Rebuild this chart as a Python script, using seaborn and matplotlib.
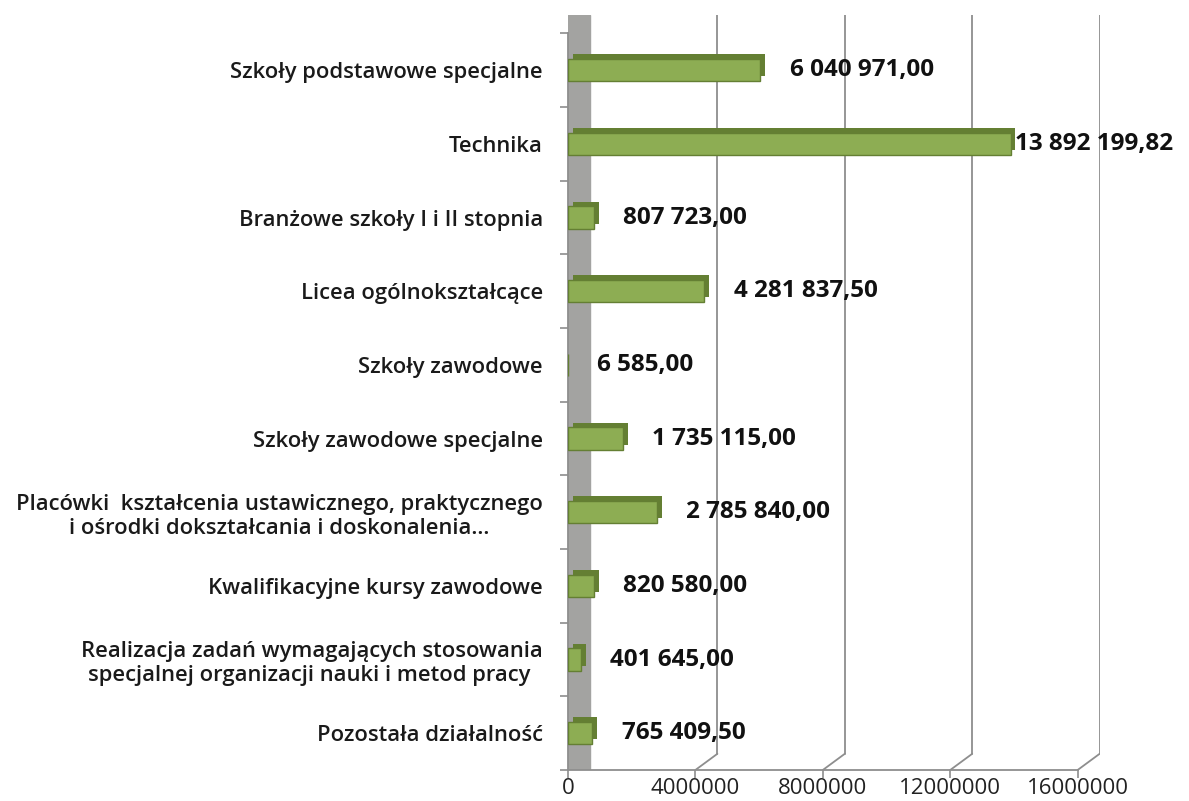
import numpy as np
import pandas as pd
import seaborn as sns
import matplotlib.pyplot as plt
import matplotlib.patheffects as pe

# data
categories = [
    "Szkoły podstawowe specjalne",
    "Technika",
    "Branżowe szkoły I i II stopnia",
    "Licea ogólnokształcące",
    "Szkoły zawodowe",
    "Szkoły zawodowe specjalne",
    "Placówki  kształcenia ustawicznego, praktycznego\ni ośrodki dokształcania i doskonalenia…",
    "Kwalifikacyjne kursy zawodowe",
    "Realizacja zadań wymagających stosowania\nspecjalnej organizacji nauki i metod pracy ",
    "Pozostała działalność",
]
values = [6040971.00, 13892199.82, 807723.00, 4281837.50, 6585.00,
          1735115.00, 2785840.00, 820580.00, 401645.00, 765409.50]
xticks = [0, 4000000, 8000000, 12000000, 16000000]

df = pd.DataFrame({"kategoria": categories, "kwota": values})

sns.set_theme(style="white")
plt.rcParams["font.family"] = ["Open Sans", "DejaVu Sans"]

face = "#8dad53"
side = "#647f33"
gray = "#8e8e8e"
depth = 690000  # fake 3d depth, in data units

fig = plt.figure(figsize=(11.89, 8.01), dpi=100)
ax = fig.add_axes([0.4777, 0.0387, 0.4474, 0.9426])

n = len(categories)

# grey back wall on the left
ax.axvspan(0, depth, color="#a3a3a1", zorder=0)

sns.barplot(data=df, x="kwota", y="kategoria", orient="h", color=face,
            width=0.3, edgecolor=side, linewidth=1.0, saturation=1, ax=ax, zorder=3)
for bar in ax.containers[0]:
    bar.set_path_effects([pe.SimplePatchShadow(offset=(3.5, 3.5), shadow_rgbFace=side, alpha=1),
                          pe.Normal()])
ax.set_xlim(0, 16700000)
ax.set_ylim(n - 0.5, -0.75)

# back gridlines, shifted by the depth, with slanted floor links
for t in xticks[1:]:
    ax.plot([t + depth, t + depth], [n - 0.72, -0.75], color=gray, lw=1.3, zorder=1)
    ax.plot([t, t + depth], [n - 0.5, n - 0.72], color=gray, lw=1.3, zorder=1)

ax.set_xticks(xticks)
ax.set_xticklabels([str(t) for t in xticks], fontsize=16, color="#222222")

# category labels on centres, tick marks between categories
ax.set_yticks(np.arange(n))
ax.set_yticklabels(categories, fontsize=15.8, fontweight="semibold", color="#1a1a1a",
                   multialignment="center")
ax.set_yticks(np.arange(n + 1) - 0.5, minor=True)
ax.tick_params(axis="y", which="major", length=0, pad=18)
ax.tick_params(axis="y", which="minor", length=6, width=1.2, color=gray, left=True)
ax.tick_params(axis="x", length=6, width=1.2, color=gray, bottom=True, pad=0)
ax.set_xlabel("")
ax.set_ylabel("")

for s in ["top", "right"]:
    ax.spines[s].set_visible(False)
for s in ["left", "bottom"]:
    ax.spines[s].set_color(gray)
    ax.spines[s].set_linewidth(1.3)
ax.spines["bottom"].set_bounds(0, xticks[-1])
ax.spines["left"].set_bounds(n - 0.5, -0.5)

# value labels, polish number format
big = max(values)
for i, v in enumerate(values):
    txt = f"{v:,.2f}".replace(",", " ").replace(".", ",")
    off = 3 if v == big else 21
    ax.annotate(txt, (v, i), xytext=(off, 0), textcoords="offset points",
                ha="left", va="center", fontsize=17.5, fontweight="bold",
                color="#111111", zorder=5, annotation_clip=False)

fig.savefig("out.png", dpi=100)
